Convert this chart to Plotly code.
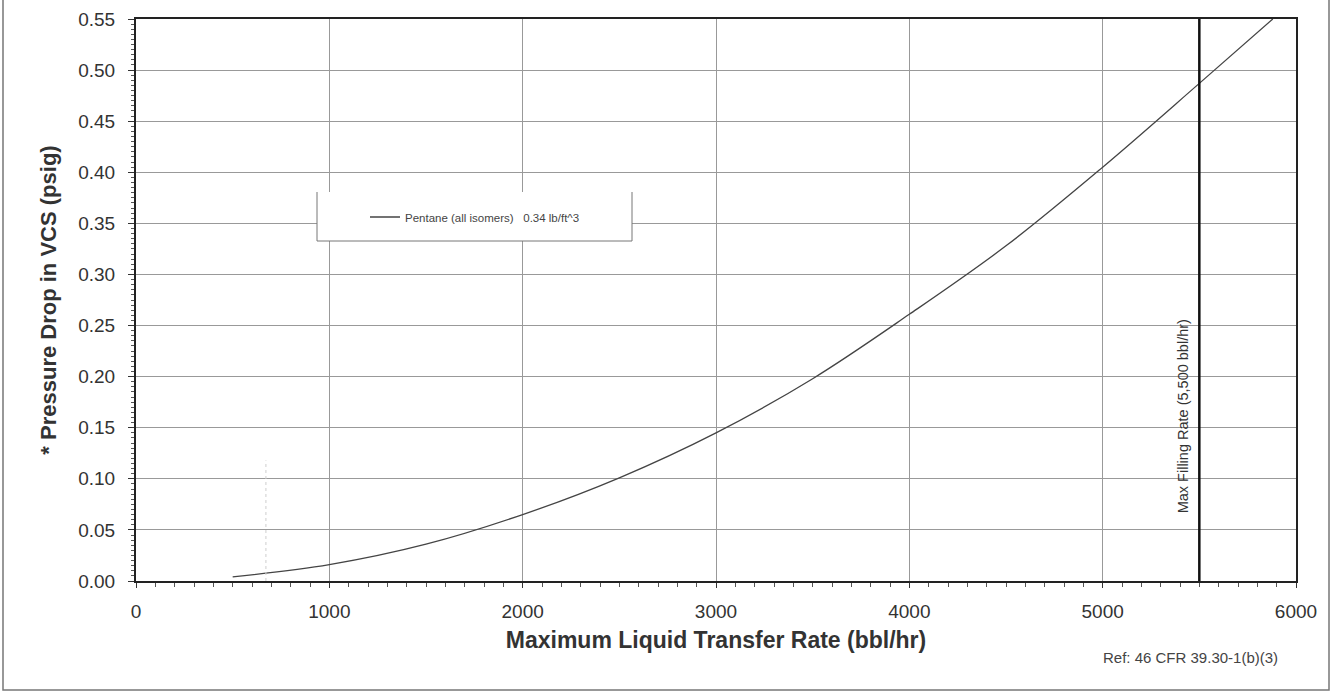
import plotly.graph_objects as go

# Data
rate_bbl_hr = [500, 1000, 1500, 2000, 2500, 3000, 3500, 4000, 4500, 5000, 5500, 5880]
pressure_psig = [0.004, 0.016, 0.036, 0.065, 0.101, 0.145, 0.198, 0.261, 0.328, 0.405, 0.487, 0.550]
series_name = "Pentane (all isomers)\u00a0\u00a0\u00a00.34 lb/ft^3"
max_fill_rate = 5500
max_fill_label = "Max Filling Rate (5,500 bbl/hr)"
ref_note = "Ref: 46 CFR 39.30-1(b)(3)"
faint_x = [672, 672]
faint_y = [0.0, 0.118]

W, H = 1331, 693
L, R, T, B = 136, 35, 19, 112
PW, PH = W - L - R, H - T - B


def px(xp):
    return (xp - L) / PW


def py(yp):
    return (H - B - yp) / PH


fig = go.Figure()
fig.add_trace(go.Scatter(x=rate_bbl_hr, y=pressure_psig, mode="lines", name=series_name,
                         line=dict(color="#444444", width=1.3, shape="spline"), showlegend=True))
fig.add_trace(go.Scatter(x=faint_x, y=faint_y, mode="lines", showlegend=False,
                         line=dict(color="#cfcfcf", width=1, dash="dot"), hoverinfo="skip"))

font_family = "Liberation Sans, Arial, sans-serif"

fig.update_layout(
    width=W, height=H,
    margin=dict(l=L, r=R, t=T, b=B, autoexpand=False),
    paper_bgcolor="white", plot_bgcolor="white",
    font=dict(family=font_family, color="#333333"),
    showlegend=True,
    legend=dict(x=px(365), y=py(217), xanchor="left", yanchor="middle",
                bgcolor="rgba(0,0,0,0)", borderwidth=0,
                font=dict(size=11.5, color="#444444", family=font_family)),
    xaxis=dict(range=[0, 6000], dtick=1000, tick0=0, automargin=False,
               showgrid=True, gridcolor="#999999", gridwidth=1,
               showline=True, linecolor="#222222", linewidth=2, mirror=True,
               ticks="outside", ticklen=5, tickcolor="#333333", ticklabelstandoff=7,
               minor=dict(dtick=100, ticks="outside", ticklen=4, tickcolor="#555555", showgrid=False),
               tickfont=dict(size=19, color="#333333"),
               title=dict(text="<b>Maximum Liquid Transfer Rate (bbl/hr)</b>",
                          font=dict(size=23, color="#333333"), standoff=11),
               zeroline=False),
    yaxis=dict(range=[0, 0.55], dtick=0.05, tick0=0, tickformat=".2f", automargin=False,
               showgrid=True, gridcolor="#999999", gridwidth=1,
               showline=True, linecolor="#222222", linewidth=2, mirror=True,
               ticks="outside", ticklen=6, tickcolor="#333333", ticklabelstandoff=9,
               minor=dict(dtick=0.005, ticks="outside", ticklen=3, tickcolor="#555555", showgrid=False),
               tickfont=dict(size=19, color="#333333"),
               title=dict(text="<b>* Pressure Drop in VCS (psig)</b>",
                          font=dict(size=22, color="#333333"), standoff=16),
               zeroline=False),
)

# Legend box (white, left/right/bottom edges)
bx0, bx1 = px(317), px(632)
by0, by1 = py(241), py(192)
fig.add_shape(type="rect", xref="paper", yref="paper", x0=bx0, x1=bx1, y0=by0, y1=by1,
              fillcolor="white", line=dict(width=0), layer="above")
for (xa, xb, ya, yb) in [(bx0, bx0, by0, by1), (bx1, bx1, by0, by1), (bx0, bx1, by0, by0)]:
    fig.add_shape(type="line", xref="paper", yref="paper", x0=xa, x1=xb, y0=ya, y1=yb,
                  line=dict(color="#777777", width=1), layer="above")

# Max filling rate vertical line
fig.add_shape(type="line", xref="x", yref="paper", x0=max_fill_rate, x1=max_fill_rate, y0=0, y1=1,
              line=dict(color="#111111", width=2.5), layer="above")
fig.add_annotation(x=max_fill_rate, y=py(416), xref="x", yref="paper", xshift=-16,
                   xanchor="center", yanchor="middle",
                   text=max_fill_label, textangle=-90, showarrow=False,
                   font=dict(size=14.5, color="#333333"))

# Reference note
fig.add_annotation(x=px(1190), y=py(657), xref="paper", yref="paper",
                   xanchor="center", yanchor="middle",
                   text=ref_note, showarrow=False,
                   font=dict(size=15, color="#444444"))

# Outer page frame
fig.add_shape(type="rect", xref="paper", yref="paper",
              x0=px(3), x1=px(1329), y0=py(690), y1=py(-3),
              line=dict(color="#777777", width=1.5), fillcolor="rgba(0,0,0,0)", layer="above")

fig.write_html("out.html",
               config={"displayModeBar": False},
               post_script="document.body.style.margin='0';document.documentElement.style.overflow='hidden';document.body.style.overflow='hidden';")
